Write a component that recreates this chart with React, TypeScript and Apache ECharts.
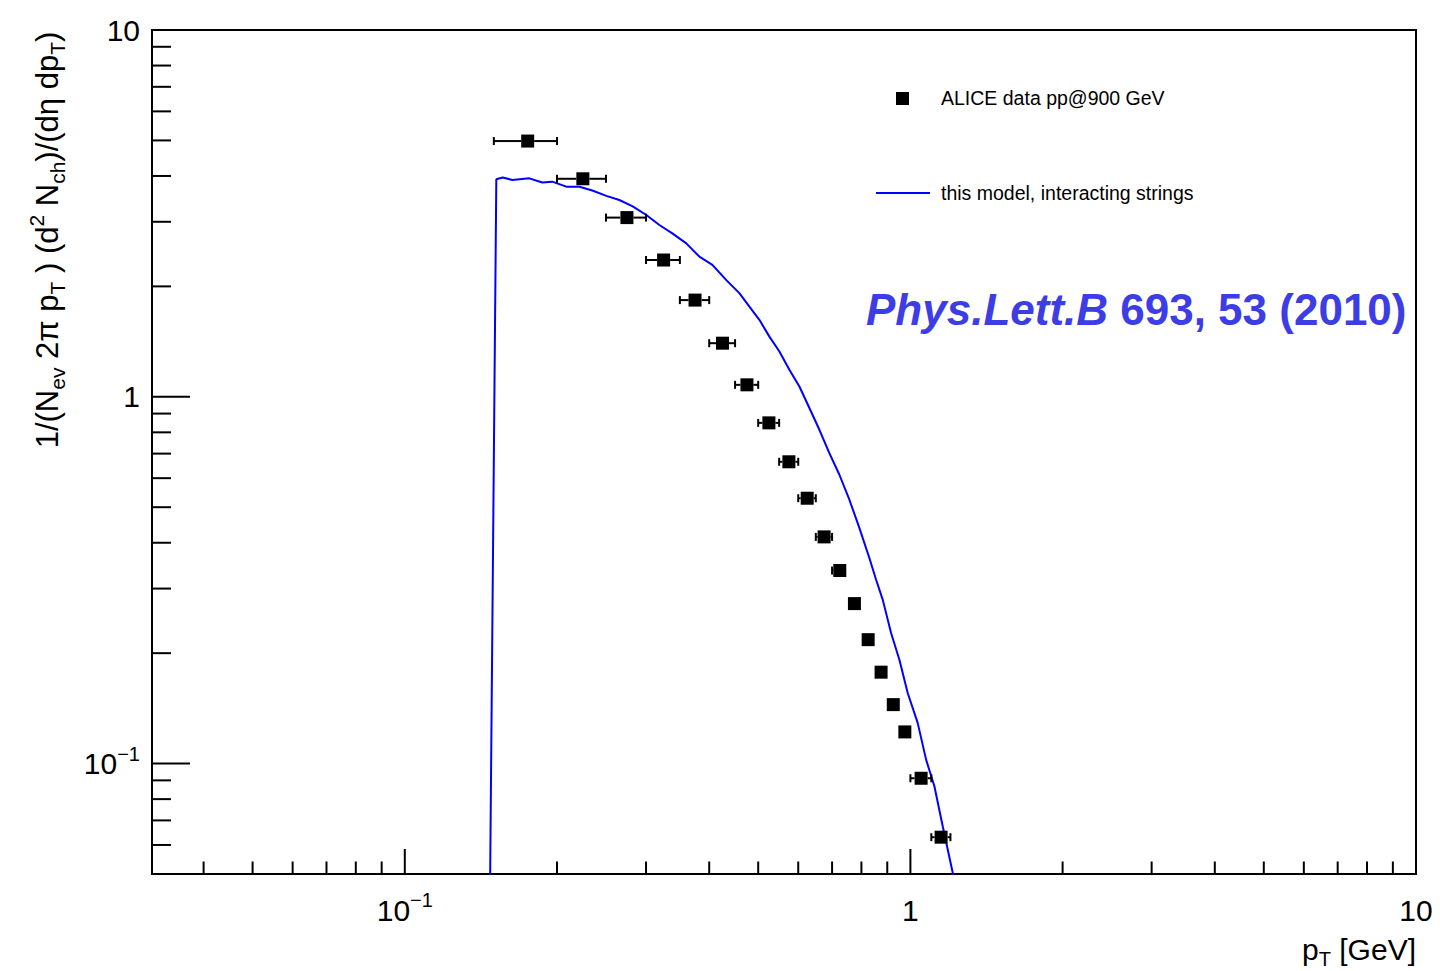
import React, { useEffect, useRef } from 'react';
import * as echarts from 'echarts';

// ---------- axis ranges ----------
const X_MIN = 0.0316228; // 10^-1.5
const X_MAX = 10;
const Y_MIN = 0.05;
const Y_MAX = 10;

// ---------- ALICE data pp@900 GeV ----------
const dataX = [0.175, 0.225, 0.275, 0.325, 0.375, 0.425, 0.475, 0.525, 0.575, 0.625, 0.675, 0.725, 0.775, 0.825, 0.875, 0.925, 0.975, 1.05, 1.15];
const dataY = [4.98, 3.93, 3.08, 2.36, 1.835, 1.40, 1.078, 0.849, 0.665, 0.529, 0.415, 0.336, 0.273, 0.2177, 0.1775, 0.1448, 0.122, 0.0912, 0.063];
const dataXErr = [0.025, 0.025, 0.025, 0.025, 0.025, 0.025, 0.025, 0.025, 0.025, 0.025, 0.025, 0.025, 0.025, 0.025, 0.025, 0.025, 0.025, 0.05, 0.05];

// ---------- model curve: interacting strings ----------
const curveX = [0.146, 0.1517, 0.1562, 0.1632, 0.1763, 0.1871, 0.1957, 0.2087, 0.2215, 0.2349, 0.2504, 0.2657, 0.2818, 0.3004, 0.3188, 0.3382, 0.3604, 0.3825, 0.4058, 0.4325, 0.4589, 0.4804, 0.5027, 0.5262, 0.5507, 0.5763, 0.6032, 0.6313, 0.6607, 0.6914, 0.7237, 0.7574, 0.7926, 0.8295, 0.8554, 0.8815, 0.9158, 0.9511, 0.9878, 1.0337, 1.0741, 1.1155, 1.1586, 1.2126, 1.267];
const curveY = [0.01, 3.92, 3.96, 3.90, 3.94, 3.84, 3.86, 3.74, 3.74, 3.65, 3.53, 3.44, 3.31, 3.13, 2.94, 2.79, 2.62, 2.41, 2.29, 2.08, 1.917, 1.762, 1.621, 1.459, 1.329, 1.185, 1.067, 0.932, 0.813, 0.702, 0.613, 0.524, 0.439, 0.3635, 0.3172, 0.2799, 0.2271, 0.192, 0.1558, 0.1291, 0.1025, 0.0867, 0.0675, 0.0504, 0.038];

// ---------- tick values ----------
const xMajorTicks = [0.1, 1, 10];
const xMinorTicks = [0.04, 0.05, 0.06, 0.07, 0.08, 0.09, 0.2, 0.3, 0.4, 0.5, 0.6, 0.7, 0.8, 0.9, 2, 3, 4, 5, 6, 7, 8, 9];
const yMajorTicks = [0.1, 1, 10];
const yMinorTicks = [0.06, 0.07, 0.08, 0.09, 0.2, 0.3, 0.4, 0.5, 0.6, 0.7, 0.8, 0.9, 2, 3, 4, 5, 6, 7, 8, 9];

// ---------- texts ----------
const legendData = 'ALICE data pp@900 GeV';
const legendModel = 'this model, interacting strings';
const refItalic = 'Phys.Lett.B';
const refRest = ' 693, 53 (2010)';
const REF_COLOR = '#3d3de6';

const FONT = "'Liberation Sans', Arial, Helvetica, sans-serif";
const LABEL_SIZE = 30;
const SMALL_SIZE = 20;

// rich styles for axis labels (ECharts label model uses "color")
const richAxis = {
  n: { fontSize: LABEL_SIZE, lineHeight: 40, fontFamily: FONT, color: '#000' },
  s: { fontSize: SMALL_SIZE, lineHeight: 24, verticalAlign: 'top', fontFamily: FONT, color: '#000' },
};
// rich styles for graphic texts (zrender style uses "fill")
const richGraphic = {
  n: { fontSize: LABEL_SIZE, lineHeight: 40, fontFamily: FONT, fill: '#000' },
  s: { fontSize: SMALL_SIZE, lineHeight: 22, verticalAlign: 'top', fontFamily: FONT, fill: '#000' },
  sub: { fontSize: SMALL_SIZE, lineHeight: 6, verticalAlign: 'bottom', fontFamily: FONT, fill: '#000' },
};
const richTitle = {
  n: { fontSize: 31, lineHeight: 42, fontFamily: FONT, fill: '#000' },
  s: { fontSize: 21, lineHeight: 23, verticalAlign: 'top', fontFamily: FONT, fill: '#000' },
  sub: { fontSize: 21, lineHeight: 6, verticalAlign: 'bottom', fontFamily: FONT, fill: '#000' },
};

const powLabel = (v: number) => {
  const lg = Math.log10(v);
  const e = Math.round(lg);
  if (Math.abs(lg - e) > 1e-6) return '';
  if (e === 0) return '{n|1}';
  if (e === 1) return '{n|10}';
  return `{n|10}{s|${e < 0 ? '\u2212' : ''}${Math.abs(e)}}`;
};

export default function App() {
  const ref = useRef<HTMLDivElement>(null);
  useEffect(() => {
    if (!ref.current) return;
    const chart = echarts.init(ref.current, null, { renderer: 'svg' });

    const tickSeries = (axis: 'x' | 'y', values: number[], major: boolean) => ({
      type: 'custom',
      coordinateSystem: 'cartesian2d',
      silent: true,
      clip: false,
      z: 5,
      data: values.map((v) => (axis === 'x' ? [v, Y_MIN] : [X_MIN, v])),
      renderItem: (_p: any, api: any) => {
        const p = api.coord([api.value(0), api.value(1)]);
        const len = axis === 'x' ? (major ? 25 : 12.5) : major ? 38 : 19;
        return {
          type: 'line',
          shape:
            axis === 'x'
              ? { x1: p[0], y1: p[1], x2: p[0], y2: p[1] - len }
              : { x1: p[0], y1: p[1], x2: p[0] + len, y2: p[1] },
          style: { stroke: '#000', lineWidth: 2 },
        };
      },
    });

    const MARK = 13;

    const option: any = {
      animation: false,
      backgroundColor: '#fff',
      grid: {
        left: 152,
        right: 24,
        top: 30,
        bottom: 97,
        show: true,
        borderColor: '#000',
        borderWidth: 2,
        backgroundColor: 'transparent',
        containLabel: false,
        outerBoundsMode: 'none',
      },
      xAxis: {
        type: 'log',
        logBase: 10,
        min: X_MIN,
        max: X_MAX,
        axisLine: { show: false },
        axisTick: { show: false },
        splitLine: { show: false },
        minorTick: { show: false },
        axisLabel: {
          formatter: powLabel,
          margin: 16,
          rich: richAxis,
          showMinLabel: true,
          showMaxLabel: true,
          hideOverlap: false,
        },
      },
      yAxis: {
        type: 'log',
        logBase: 10,
        min: Y_MIN,
        max: Y_MAX,
        axisLine: { show: false },
        axisTick: { show: false },
        splitLine: { show: false },
        minorTick: { show: false },
        axisLabel: {
          formatter: powLabel,
          margin: 12,
          rich: richAxis,
          showMinLabel: true,
          showMaxLabel: true,
          hideOverlap: false,
        },
      },
      graphic: [
        { type: 'rect', shape: { x: 896, y: 92, width: 13, height: 13 }, style: { fill: '#000' } },
        {
          type: 'text', x: 941, y: 98,
          style: { text: legendData, fontSize: 19.5, fontFamily: FONT, fill: '#000', align: 'left', verticalAlign: 'middle' },
        },
        { type: 'line', shape: { x1: 876, y1: 193, x2: 930, y2: 193 }, style: { stroke: '#0000ff', lineWidth: 2 } },
        {
          type: 'text', x: 941, y: 193,
          style: { text: legendModel, fontSize: 19.5, fontFamily: FONT, fill: '#000', align: 'left', verticalAlign: 'middle' },
        },
        {
          type: 'text', x: 866, y: 309,
          style: {
            text: `{i|${refItalic}}{b|${refRest}}`,
            align: 'left',
            verticalAlign: 'middle',
            rich: {
              i: { fontSize: 44, fontWeight: 'bold', fontStyle: 'italic', fontFamily: FONT, fill: REF_COLOR },
              b: { fontSize: 44, fontWeight: 'bold', fontFamily: FONT, fill: REF_COLOR },
            },
          },
        },
        {
          type: 'text', x: 1416, y: 949,
          style: {
            text: '{n|p}{sub|T}{n| [GeV]}',
            align: 'right',
            verticalAlign: 'middle',
            rich: richGraphic,
          },
        },
        {
          type: 'text', x: 47, y: 240, rotation: Math.PI / 2,
          style: {
            text: '{n|1/(N}{sub|ev}{n| 2\u03c0 p}{sub|T}{n| ) (d}{s|2}{n| N}{sub|ch}{n|)/(d\u03b7 dp}{sub|T}{n|)}',
            align: 'center',
            verticalAlign: 'middle',
            rich: richTitle,
          },
        },
      ],
      series: [
        tickSeries('x', xMinorTicks, false),
        tickSeries('x', xMajorTicks, true),
        tickSeries('y', yMinorTicks, false),
        tickSeries('y', yMajorTicks, true),
        {
          name: 'this model, interacting strings',
          type: 'line',
          data: curveX.map((x, i) => [x, curveY[i]]),
          showSymbol: false,
          symbol: 'none',
          clip: true,
          z: 2,
          lineStyle: { color: '#0000ff', width: 2 },
        },
        {
          name: 'errors',
          type: 'custom',
          coordinateSystem: 'cartesian2d',
          z: 3,
          data: dataX.map((x, i) => [x, dataY[i], x - dataXErr[i], x + dataXErr[i]]),
          renderItem: (_p: any, api: any) => {
            const c = api.coord([api.value(0), api.value(1)]);
            const l = api.coord([api.value(2), api.value(1)]);
            const r = api.coord([api.value(3), api.value(1)]);
            const half = MARK / 2;
            const children: any[] = [];
            const st = { stroke: '#000', lineWidth: 2 };
            if (c[0] - l[0] > half + 1) {
              children.push({ type: 'line', shape: { x1: l[0], y1: c[1], x2: c[0] - half, y2: c[1] }, style: st });
              children.push({ type: 'line', shape: { x1: l[0], y1: c[1] - 4, x2: l[0], y2: c[1] + 4 }, style: st });
            }
            if (r[0] - c[0] > half + 1) {
              children.push({ type: 'line', shape: { x1: c[0] + half, y1: c[1], x2: r[0], y2: c[1] }, style: st });
              children.push({ type: 'line', shape: { x1: r[0], y1: c[1] - 4, x2: r[0], y2: c[1] + 4 }, style: st });
            }
            return { type: 'group', children };
          },
        },
        {
          name: 'ALICE data pp@900 GeV',
          type: 'scatter',
          data: dataX.map((x, i) => [x, dataY[i]]),
          symbol: 'rect',
          symbolSize: MARK,
          z: 4,
          itemStyle: { color: '#000', opacity: 1 },
        },
      ],
    };
    chart.setOption(option);
    return () => chart.dispose();
  }, []);
  return (
    <div
      ref={ref}
      style={{ position: 'fixed', left: 0, top: 0, width: 1440, height: 971, background: '#fff' }}
    />
  );
}
